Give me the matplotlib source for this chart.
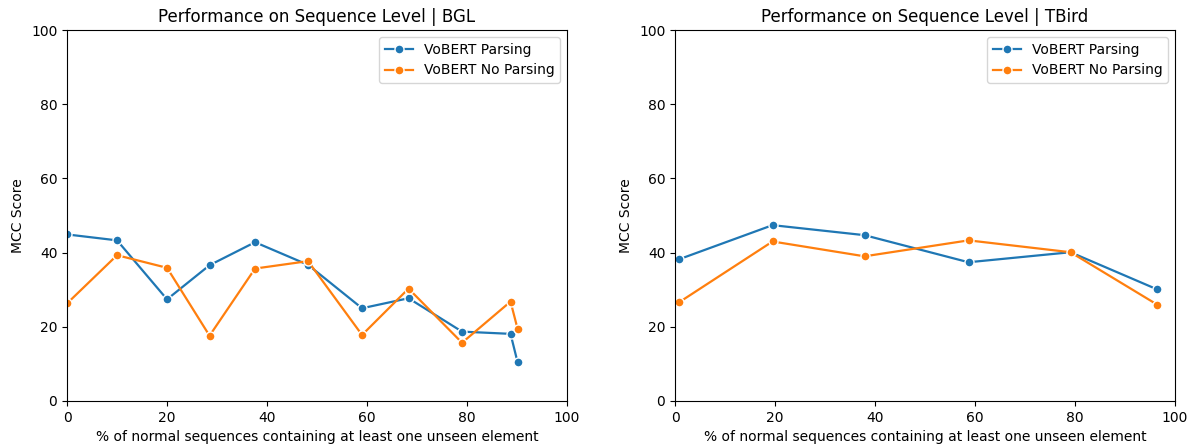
import numpy as np
import matplotlib.pyplot as plt

# BGL results
bgl_x = [0, 10, 20, 28.5, 37.6, 48.2, 59, 68.3, 79, 88.7, 90.1]
bgl_parsing = [44.9, 43.3, 27.4, 36.6, 42.8, 36.7, 25.0, 27.7, 18.7, 18.1, 10.5]
bgl_no_parsing = [26.3, 39.3, 35.9, 17.6, 35.7, 37.7, 17.8, 30.3, 15.7, 26.8, 19.5]

# TBird results
tbird_x = [0.8, 19.5, 37.9, 58.7, 79.1, 96.4]
tbird_parsing = [38.2, 47.4, 44.7, 37.4, 40.1, 30.1]
tbird_no_parsing = [26.6, 43.0, 39.0, 43.3, 40.1, 26.0]

fig = plt.figure(figsize=(11.91, 4.46), dpi=100)
ax1 = fig.add_axes([0.0563, 0.1009, 0.4198, 0.8318])
ax2 = fig.add_axes([0.5668, 0.1009, 0.4198, 0.8318])

def draw(ax, x, p, np_, title):
    ax.plot(x, p, marker="o", color="#1f77b4", markeredgecolor="white",
            markersize=6.5, linewidth=1.6, label="VoBERT Parsing")
    ax.plot(x, np_, marker="o", color="#ff7f0e", markeredgecolor="white",
            markersize=6.5, linewidth=1.6, label="VoBERT No Parsing")
    ax.set_xlim(0, 100)
    ax.set_ylim(0, 100)
    ax.set_title(title, fontsize=12)
    ax.set_xlabel("% of normal sequences containing at least one unseen element")
    ax.set_ylabel("MCC Score")
    ax.legend(loc="upper right")

draw(ax1, bgl_x, bgl_parsing, bgl_no_parsing, "Performance on Sequence Level | BGL")
draw(ax2, tbird_x, tbird_parsing, tbird_no_parsing, "Performance on Sequence Level | TBird")

fig.savefig("out.png", dpi=100)
